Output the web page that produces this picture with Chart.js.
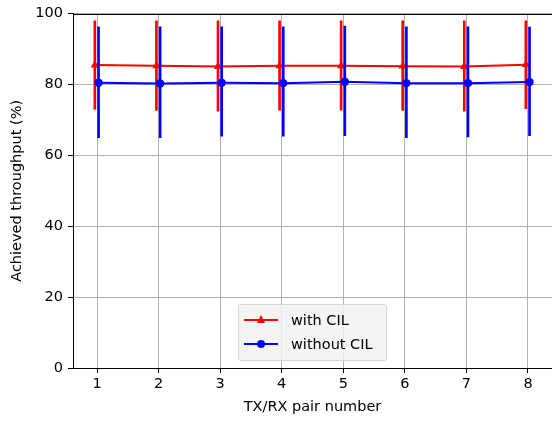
<!DOCTYPE html>
<html>
<head>
<meta charset="utf-8">
<script src="https://cdn.jsdelivr.net/npm/chart.js@4"></script>
<style>
  body { margin: 0; background: #fff; overflow: hidden; }
  canvas { display: block; }
  #wrap { position: relative; width: 552px; height: 421px; font-family: "DejaVu Sans", sans-serif; }
  #legend {
    position: absolute; left: 238px; top: 304px; width: 147px; height: 55px;
    background: rgba(242,242,242,0.85); border: 1px solid #d6d6d6; border-radius: 3px;
    font-size: 14.5px; color: #000;
  }
  .row { position: absolute; left: 0; height: 20px; width: 100%; }
  .row .ln { position: absolute; left: 5px; top: 9px; width: 34px; height: 2px; }
  .row .txt { position: absolute; left: 52px; top: 0; line-height: 20px; white-space: nowrap; }
  .tri { position: absolute; left: 18px; top: 5px; width: 0; height: 0;
    border-left: 4px solid transparent; border-right: 4px solid transparent; border-bottom: 8px solid #f00; }
  .dot { position: absolute; left: 18px; top: 6px; width: 8px; height: 8px; border-radius: 50%; background: #00f; }
</style>
</head>
<body>
<div id="wrap">
  <canvas id="myChart" width="552" height="421"></canvas>
  <div id="legend">
    <div class="row" style="top:5px"><div class="ln" style="background:#f00"></div><div class="tri"></div><div class="txt">with CIL</div></div>
    <div class="row" style="top:29px"><div class="ln" style="background:#00f"></div><div class="dot"></div><div class="txt">without CIL</div></div>
  </div>
</div>
<script>
var pairs = [1, 2, 3, 4, 5, 6, 7, 8];
var yTicks = [0, 20, 40, 60, 80, 100];

var withCil = [85.5, 85.3, 85.1, 85.3, 85.3, 85.2, 85.1, 85.6];
var withCilLow = [73.0, 72.7, 72.5, 72.8, 72.8, 72.7, 72.5, 73.2];
var withCilHigh = [98.0, 98.0, 98.0, 98.0, 98.0, 98.0, 98.0, 98.0];

var withoutCil = [80.5, 80.3, 80.5, 80.4, 80.8, 80.4, 80.4, 80.7];
var withoutCilLow = [65.0, 65.0, 65.4, 65.4, 65.6, 65.0, 65.2, 65.6];
var withoutCilHigh = [96.3, 96.3, 96.3, 96.3, 96.5, 96.3, 96.3, 96.2];

// small horizontal shift so the two error bars don't sit on top of each other
var shiftWith = -0.035;
var shiftWithout = 0.025;

var RED = "#ff0000";
var BLUE = "#0000ff";
var FONT = { family: "DejaVu Sans", size: 14.5 };

function points(vals, shift) {
  return pairs.map(function (p, i) { return { x: p + shift, y: vals[i] }; });
}
function bars(lo, hi, shift) {
  return pairs.map(function (p, i) { return { x: p + shift, y: [lo[i], hi[i]] }; });
}

// top spine (the right one falls just outside the picture)
var topSpine = {
  id: "topSpine",
  afterDatasetsDraw: function (chart) {
    var a = chart.chartArea, ctx = chart.ctx;
    var y = Math.round(a.top) + 0.5;
    ctx.save();
    ctx.strokeStyle = "#000";
    ctx.lineWidth = 1;
    ctx.beginPath();
    ctx.moveTo(a.left, y);
    ctx.lineTo(a.right, y);
    ctx.stroke();
    ctx.restore();
  }
};

var chart = new Chart(document.getElementById("myChart"), {
  type: "line",
  data: {
    datasets: [
      {
        type: "bar", label: "with CIL err", data: bars(withCilLow, withCilHigh, shiftWith),
        backgroundColor: RED, borderWidth: 0, barThickness: 2, grouped: false, order: 4
      },
      {
        label: "with CIL", data: points(withCil, shiftWith),
        borderColor: RED, backgroundColor: RED, borderWidth: 2,
        pointStyle: "triangle", pointRadius: 4.8, pointBorderWidth: 0, order: 3
      },
      {
        type: "bar", label: "without CIL err", data: bars(withoutCilLow, withoutCilHigh, shiftWithout),
        backgroundColor: BLUE, borderWidth: 0, barThickness: 2, grouped: false, order: 2
      },
      {
        label: "without CIL", data: points(withoutCil, shiftWithout),
        borderColor: BLUE, backgroundColor: BLUE, borderWidth: 2,
        pointStyle: "circle", pointRadius: 4.2, pointBorderWidth: 0, order: 1
      }
    ]
  },
  options: {
    responsive: false,
    animation: false,
    devicePixelRatio: 1,
    layout: { autoPadding: false, padding: { top: 12, right: 0, left: 0, bottom: 0 } },
    plugins: { legend: { display: false }, tooltip: { enabled: false } },
    scales: {
      x: {
        type: "linear", min: 0.61, max: 8.39, offset: false,
        afterBuildTicks: function (s) { s.ticks = pairs.map(function (v) { return { value: v }; }); },
        afterFit: function (s) { s.height = 53; s.paddingRight = 0; s.paddingLeft = 0; },
        ticks: { color: "#000", font: FONT, padding: 3, maxRotation: 0 },
        grid: { offset: false, color: "#b0b0b0", lineWidth: 1, tickLength: 5, tickColor: "#000", tickWidth: 1 },
        border: { color: "#000", width: 1 },
        title: { display: true, text: "TX/RX pair number", color: "#000", font: FONT, padding: { top: 0, bottom: 5 } }
      },
      y: {
        min: 0, max: 100,
        afterBuildTicks: function (s) { s.ticks = yTicks.map(function (v) { return { value: v }; }); },
        afterFit: function (s) { s.width = 73; },
        ticks: { color: "#000", font: FONT, padding: 5 },
        grid: { color: "#b0b0b0", lineWidth: 1, tickLength: 5, tickColor: "#000", tickWidth: 1 },
        border: { color: "#000", width: 1 },
        title: { display: true, text: "Achieved throughput (%)", color: "#000", font: FONT, padding: { top: 9, bottom: 0 } }
      }
    }
  },
  plugins: [topSpine]
});
</script>
</body>
</html>
